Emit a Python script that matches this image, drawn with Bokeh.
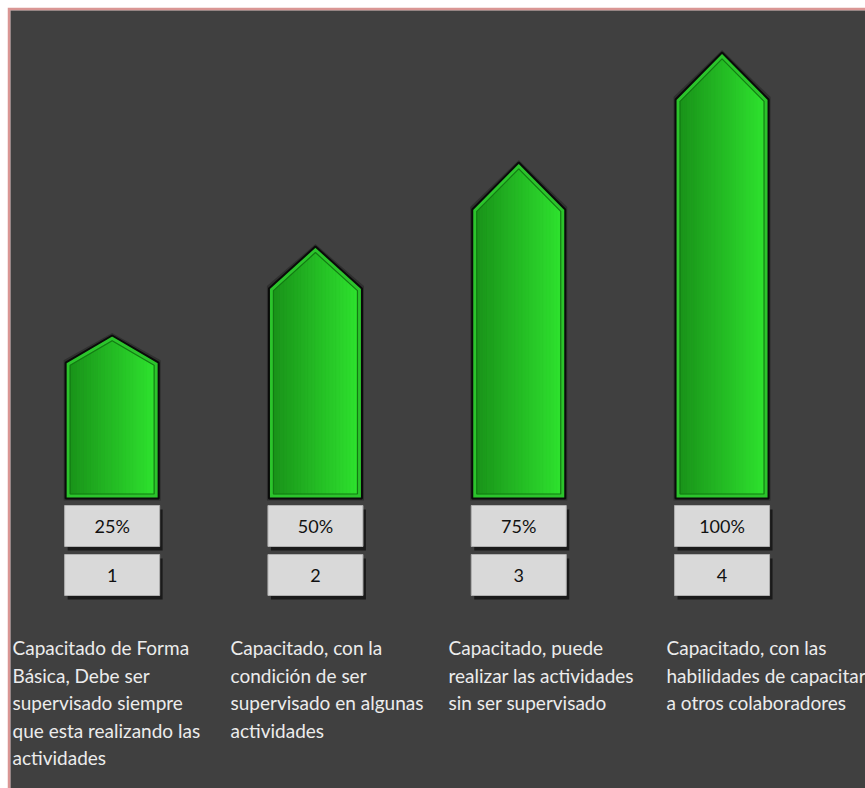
from bokeh.plotting import figure
from bokeh.models import Range1d
from bokeh.embed import file_html
from bokeh.resources import INLINE
from bokeh.core.properties import value

# ---------------- data ----------------
niveles = [1, 2, 3, 4]
porcentajes = [25, 50, 75, 100]
altura_flecha = [163, 252, 336, 446]   # arrow heights
descripciones = [
    ["Capacitado de Forma", "Básica, Debe ser", "supervisado siempre",
     "que esta realizando las", "actividades"],
    ["Capacitado, con la", "condición de ser", "supervisado en algunas",
     "actividades"],
    ["Capacitado, puede", "realizar las actividades", "sin ser supervisado"],
    ["Capacitado, con las", "habilidades de capacitar", "a otros colaboradores"],
]

# ---------------- style ----------------
BG = "#404040"
BORDER = "#d99694"
PX = 203.3            # pixels per level unit on x
HW = 46.5 / PX        # arrow half width
FONT = "Lato"

p = figure(width=858, height=781,
           x_range=Range1d(0.5, 0.5 + 855 / PX), y_range=Range1d(-290, 488),
           x_axis_type=None, y_axis_type=None,
           output_backend="svg", toolbar_location=None,
           min_border_left=3, min_border_top=3, min_border_right=0, min_border_bottom=0,
           background_fill_color=BG, border_fill_color=BORDER,
           outline_line_color=None)
p.margin = (7, 0, 0, 7)
p.grid.visible = False
p.extra_x_ranges = {"txt": Range1d(1 - 2 / 218, 1 - 2 / 218 + 855 / 218)}


def pentagon(c, hw, base, top, roof):
    return ([c - hw, c - hw, c, c + hw, c + hw],
            [base, top - roof, top, top - roof, base])


glow_x, glow_y, out_x, out_y, in_x, in_y = [], [], [], [], [], []
strip_x, strip_y, strip_c = [], [], []
N = 24
c0 = (0x1a, 0x93, 0x1a)
c1 = (0x2f, 0xe2, 0x2f)
for lvl, h in zip(niveles, altura_flecha):
    roof = min(0.167 * h, 47)
    gx, gy = pentagon(lvl, HW + 2 / PX, -2, h + 2.5, roof)
    glow_x.append(gx); glow_y.append(gy)
    ox, oy = pentagon(lvl, HW, 0, h, roof)
    out_x.append(ox); out_y.append(oy)
    hw_i = HW - 4.5 / PX
    slope = roof / 46.5
    roof_i = slope * (46.5 - 4.5)
    top_i = h - 4.5 * (1 + slope ** 2) ** 0.5
    base_i = 4.5
    ix, iy = pentagon(lvl, hw_i, base_i, top_i, roof_i)
    in_x.append(ix); in_y.append(iy)
    for k in range(N):
        xa = lvl - hw_i + 2 * hw_i * k / N
        xb = lvl - hw_i + 2 * hw_i * (k + 1) / N
        ya = top_i - roof_i * abs(xa - lvl) / hw_i
        yb = top_i - roof_i * abs(xb - lvl) / hw_i
        strip_x.append([xa, xa, xb, xb])
        strip_y.append([base_i, ya, yb, base_i])
        t = (k + 0.5) / N
        col = tuple(int(c0[j] + (c1[j] - c0[j]) * t) for j in range(3))
        strip_c.append("#%02x%02x%02x" % col)

p.patches(glow_x, glow_y, fill_color="#1a1a1a", fill_alpha=0.45, line_color=None)
p.patches(out_x, out_y, fill_color="#2cc42c", line_color="#0a0a0a", line_width=2)
p.patches(strip_x, strip_y, fill_color=strip_c, line_color=strip_c, line_width=0.6)
p.patches(in_x, in_y, fill_color=None, line_color="#137a13", line_width=1.2)

# ---------------- label boxes ----------------
BW = 47.5 / PX
pct_labels = [f"{v}%" for v in porcentajes]
num_labels = [str(n) for n in niveles]
sh = 3 / PX
p.quad(left=[n - BW + sh for n in niveles], right=[n + BW + sh for n in niveles],
       top=[-11] * 4, bottom=[-52] * 4, fill_color="#141414", fill_alpha=0.85, line_color=None)
p.quad(left=[n - BW + sh for n in niveles], right=[n + BW + sh for n in niveles],
       top=[-60] * 4, bottom=[-101] * 4, fill_color="#141414", fill_alpha=0.85, line_color=None)
p.quad(left=[n - BW for n in niveles], right=[n + BW for n in niveles],
       top=[-7] * 4, bottom=[-48] * 4, fill_color="#d9d9d9", line_color="#b0b0b0", line_width=1)
p.quad(left=[n - BW for n in niveles], right=[n + BW for n in niveles],
       top=[-56] * 4, bottom=[-97] * 4, fill_color="#d9d9d9", line_color="#b0b0b0", line_width=1)
p.text(x=niveles, y=[-27.5] * 4, text=pct_labels, text_font=value(FONT),
       text_font_size="18px", text_color="#111111", text_align="center",
       text_baseline="middle")
p.text(x=niveles, y=[-76.5] * 4, text=num_labels, text_font=value(FONT),
       text_font_size="18px", text_color="#111111", text_align="center",
       text_baseline="middle")

# ---------------- descriptions ----------------
tx, ty, tt = [], [], []
for i, lines in enumerate(descripciones):
    for j, line in enumerate(lines):
        tx.append(i + 1)
        ty.append(-149 - 27.5 * j)
        tt.append(line)
p.text(x=tx, y=ty, text=tt, x_range_name="txt", text_font=value(FONT),
       text_font_size="19px", text_color="#ececec", text_align="left",
       text_baseline="middle")

open("out.html", "w").write(file_html(p, INLINE))
